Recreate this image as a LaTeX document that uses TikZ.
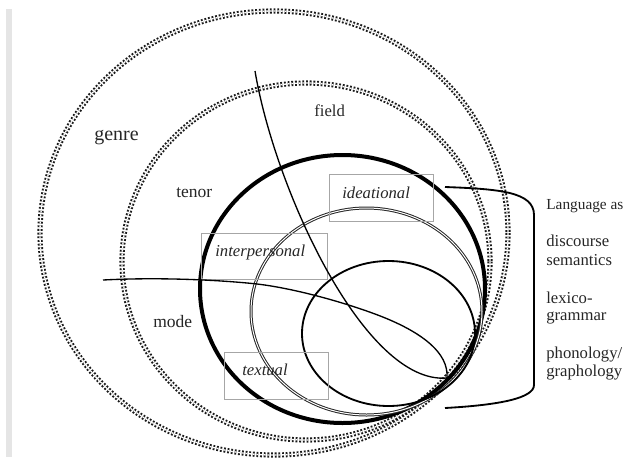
\documentclass[tikz,border=0pt]{standalone}
\usepackage{fontspec}
\setmainfont{Liberation Serif}
\begin{document}
\begin{tikzpicture}[x=0.6pt,y=-0.6pt,
  dotring/.style={draw=black!90, line width=1.15pt, double=white, double distance=0.8pt, dash pattern=on 1.1pt off 1.1pt},
  thickring/.style={draw=black, line width=2.4pt},
  midring/.style={draw=black!85, line width=0.6pt, double=white, double distance=0.6pt},
  innerring/.style={draw=black, line width=1.1pt},
  tbox/.style={draw=black!35, line width=0.6pt},
  lab/.style={inner sep=0pt, anchor=base west, text=black!85, font=\fontsize{10}{12}\selectfont},
  ilab/.style={lab, font=\fontsize{10}{12}\selectfont\itshape}
]
\useasboundingbox (0,0) rectangle (627,457);
\fill[black!10] (6,9) rectangle (12,457);

% rings
\draw[dotring] (274,233) ellipse [x radius=234, y radius=222];
\draw[dotring] (306,261.5) ellipse [x radius=184, y radius=178.5];
\draw[thickring] (342.5,289) ellipse [x radius=142.5, y radius=134];
\draw[midring] (366.5,311.5) ellipse [x radius=115.5, y radius=103.5];
\draw[innerring] (388.5,333.5) ellipse [x radius=86.5, y radius=72.5];

% boxes
\draw[tbox] (329,174) rectangle (433,221);
\draw[tbox] (201,233) rectangle (327,279);
\draw[tbox] (224,352) rectangle (328,399);

% teardrop curve
\draw[line width=0.8pt, line join=round]
  (255,71) .. controls (275,190) and (365,385) .. (447,378)
  .. controls (449,352) and (420,333) .. (390,320)
  .. controls (360,307) and (300,289) .. (257,284)
  .. controls (220,280) and (160,277) .. (103,280);

% bracket
\draw[line width=1.1pt] (445,187) .. controls (500,189) and (534,192) .. (534,215) -- (534,385) .. controls (534,398) and (500,405) .. (445,408);

% labels
\node[lab, font=\fontsize{12}{14}\selectfont] (genre) at (94,140) {genre};
\node[lab, font=\fontsize{10.5}{12}\selectfont] (tenor) at (176,197) {tenor};
\node[lab] (field) at (314,116) {field};
\node[lab, font=\fontsize{10.5}{12}\selectfont] (mode) at (153,327) {mode};
\node[ilab] (ideat) at (342,198) {ideational};
\node[ilab] (inter) at (215,256) {interpersonal};
\node[ilab] (textu) at (242,375) {textual};

\node[lab, font=\fontsize{9.2}{11}\selectfont] (l1) at (546,209) {Language as};
\node[lab] (l2) at (546,246) {discourse};
\node[lab] (l3) at (546,265) {semantics};
\node[lab] (l4) at (546,303) {lexico-};
\node[lab] (l5) at (546,320) {grammar};
\node[lab] (l6) at (546,358) {phonology/};
\node[lab] (l7) at (546,376) {graphology};
\end{tikzpicture}
\end{document}
